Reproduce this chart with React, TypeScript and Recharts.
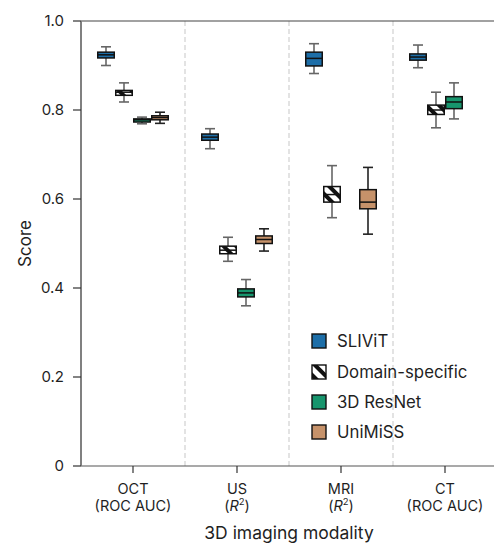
import React from 'react';
import {
  ComposedChart,
  Bar,
  XAxis,
  YAxis,
  CartesianGrid,
  ReferenceLine,
  Legend,
} from 'recharts';

// Modalities on the x axis and the metric shown under each one
const categories = ['OCT', 'US', 'MRI', 'CT'];
const metrics = ['ROC AUC', 'R2', 'R2', 'ROC AUC'];

// Box-plot summaries per model (min, q1, median, q3, max) for each modality
const slivitMin = [0.9, 0.713, 0.882, 0.895];
const slivitQ1 = [0.917, 0.732, 0.899, 0.912];
const slivitMed = [0.924, 0.739, 0.916, 0.919];
const slivitQ3 = [0.93, 0.746, 0.93, 0.926];
const slivitMax = [0.942, 0.758, 0.949, 0.946];

const domainMin = [0.818, 0.46, 0.558, 0.76];
const domainQ1 = [0.833, 0.477, 0.593, 0.79];
const domainMed = [0.84, 0.485, 0.61, 0.8];
const domainQ3 = [0.844, 0.494, 0.628, 0.811];
const domainMax = [0.861, 0.514, 0.675, 0.84];

const resnetMin = [0.769, 0.36, null, 0.78];
const resnetQ1 = [0.773, 0.38, null, 0.803];
const resnetMed = [0.778, 0.389, null, 0.818];
const resnetQ3 = [0.78, 0.398, null, 0.83];
const resnetMax = [0.784, 0.419, null, 0.861];

const unimissMin = [0.77, 0.483, 0.521, null];
const unimissQ1 = [0.778, 0.5, 0.578, null];
const unimissMed = [0.783, 0.509, 0.593, null];
const unimissQ3 = [0.787, 0.517, 0.621, null];
const unimissMax = [0.795, 0.533, 0.671, null];

const yTicks = [0, 0.2, 0.4, 0.6, 0.8, 1.0];

const FONT = 'Inter, "Noto Sans", sans-serif';
const TEXT = '#1f1f1f';

type Stats = { min: number; q1: number; med: number; q3: number; max: number };

interface Series {
  key: string;
  name: string;
  fill: string;
  whisker: string;
  min: (number | null)[];
  q1: (number | null)[];
  med: (number | null)[];
  q3: (number | null)[];
  max: (number | null)[];
}

const series: Series[] = [
  { key: 'slivit', name: 'SLIViT', fill: '#1d6ea8', whisker: '#666', min: slivitMin, q1: slivitQ1, med: slivitMed, q3: slivitQ3, max: slivitMax },
  { key: 'domain', name: 'Domain-specific', fill: 'url(#hatch)', whisker: '#666', min: domainMin, q1: domainQ1, med: domainMed, q3: domainQ3, max: domainMax },
  { key: 'resnet', name: '3D ResNet', fill: '#17956d', whisker: '#666', min: resnetMin, q1: resnetQ1, med: resnetMed, q3: resnetQ3, max: resnetMax },
  { key: 'unimiss', name: 'UniMiSS', fill: '#c6926a', whisker: '#222', min: unimissMin, q1: unimissQ1, med: unimissMed, q3: unimissQ3, max: unimissMax },
];

// One row per modality: the box range [q1, q3] plus the full summary for whiskers
const data = categories.map((c, i) => {
  const row: Record<string, unknown> = { modality: c, metric: metrics[i] };
  series.forEach((s) => {
    const q1 = s.q1[i];
    const q3 = s.q3[i];
    if (q1 != null && q3 != null) {
      row[s.key] = [q1, q3];
      row[`${s.key}Stats`] = { min: s.min[i], q1, med: s.med[i], q3, max: s.max[i] } as Stats;
    }
  });
  return row;
});

// Draws a box with median and capped whiskers; whisker positions follow the
// same pixels-per-unit as the bar rectangle produced by the y scale.
const BoxShape = (props: any) => {
  const { x, y, width, height, payload, s } = props;
  const st: Stats | undefined = payload?.[`${s.key}Stats`];
  if (!st || height == null) return null;
  const top = Math.min(y, y + height);
  const h = Math.abs(height);
  const ppu = h / (st.q3 - st.q1 || 1);
  const toY = (v: number) => top + (st.q3 - v) * ppu;
  const cx = x + width / 2;
  const cap = 5;
  const yMax = toY(st.max);
  const yMin = toY(st.min);
  const yMed = toY(st.med);
  return (
    <g>
      <line x1={cx} x2={cx} y1={yMax} y2={top} stroke={s.whisker} strokeWidth={1.6} />
      <line x1={cx} x2={cx} y1={top + h} y2={yMin} stroke={s.whisker} strokeWidth={1.6} />
      <line x1={cx - cap} x2={cx + cap} y1={yMax} y2={yMax} stroke={s.whisker} strokeWidth={1.6} />
      <line x1={cx - cap} x2={cx + cap} y1={yMin} y2={yMin} stroke={s.whisker} strokeWidth={1.6} />
      <rect x={x + 0.75} y={top} width={width - 1.5} height={h} fill={s.fill} stroke="#111" strokeWidth={1.5} />
      <line x1={x + 0.75} x2={x + width - 0.75} y1={yMed} y2={yMed} stroke="#111" strokeWidth={1.5} />
    </g>
  );
};

const XTick = (props: any) => {
  const { x, y, payload, index } = props;
  const metric = metrics[index ?? categories.indexOf(payload.value)];
  const second =
    metric === 'R2' ? (
      <>
        (<tspan fontStyle="italic">R</tspan>
        <tspan fontSize={9.5} dy={-6}>2</tspan>
        <tspan dy={6}>)</tspan>
      </>
    ) : (
      `(${metric})`
    );
  return (
    <g>
      <text x={x} y={y + 19} textAnchor="middle" fontFamily={FONT} fontSize={14.5} fill={TEXT}>
        {payload.value}
      </text>
      <text x={x} y={y + 36} textAnchor="middle" fontFamily={FONT} fontSize={14.5} fill={TEXT}>
        {second}
      </text>
    </g>
  );
};

const HatchDef = ({ id }: { id: string }) => (
  <pattern id={id} patternUnits="userSpaceOnUse" width={9} height={9} patternTransform="rotate(-45)">
    <rect x={0} y={0} width={9} height={9} fill="#fff" />
    <rect x={0} y={0} width={4} height={9} fill="#111" />
  </pattern>
);

const LegendContent = () => (
  <div style={{ fontFamily: FONT, fontSize: 16.8, color: TEXT }}>
    {series.map((s) => (
      <div key={s.key} style={{ display: 'flex', alignItems: 'center', height: 30.4 }}>
        <svg width={16} height={16} style={{ marginRight: 10 }}>
          <defs>
            <HatchDef id="hatchLegend" />
          </defs>
          <rect
            x={1}
            y={1}
            width={14}
            height={14}
            fill={s.key === 'domain' ? 'url(#hatchLegend)' : s.fill}
            stroke="#111"
            strokeWidth={1.4}
          />
        </svg>
        <span>{s.name}</span>
      </div>
    ))}
  </div>
);

// Category boundaries: the band scale start of each modality after the first,
// falling back to even splits of the plot width.
const dividerGenerator = ({ xAxis, offset }: any) => {
  const sc = xAxis?.scale;
  if (typeof sc === 'function' && typeof sc(categories[1]) === 'number') {
    return categories.slice(1).map((c) => sc(c));
  }
  const left = offset?.left ?? 0;
  const w = offset?.width ?? 0;
  return categories.slice(1).map((_, i) => left + (w * (i + 1)) / categories.length);
};

export default function App() {
  return (
    <div style={{ position: 'absolute', left: 0, top: 0, width: 494, height: 546, overflow: 'hidden', background: '#fff' }}>
      <ComposedChart
        width={497}
        height={546}
        data={data}
        margin={{ top: 21, right: 0, bottom: 0, left: 0 }}
        barGap={0}
      >
        <defs>
          <HatchDef id="hatch" />
        </defs>
        <CartesianGrid
          horizontal={false}
          stroke="#d8d8d8"
          strokeWidth={1.4}
          strokeDasharray="5 3"
          verticalCoordinatesGenerator={dividerGenerator}
        />
        <ReferenceLine y={1} stroke="#444" strokeWidth={1.2} />
        <XAxis
          dataKey="modality"
          height={80}
          interval={0}
          tick={<XTick />}
          tickSize={7}
          tickLine={{ stroke: '#333', strokeWidth: 1.2 }}
          axisLine={{ stroke: '#555', strokeWidth: 1.2 }}
          label={{
            content: ({ viewBox }: any) => (
              <text
                x={viewBox.x + viewBox.width / 2}
                y={viewBox.y + 73}
                textAnchor="middle"
                fontFamily={FONT}
                fontSize={17.5}
                fill={TEXT}
              >
                3D imaging modality
              </text>
            ),
          }}
        />
        <YAxis
          width={81}
          domain={[0, 1]}
          ticks={yTicks}
          allowDataOverflow
          tickFormatter={(v: number) => (v === 0 ? '0' : v.toFixed(1))}
          tick={{ fontFamily: FONT, fontSize: 15, fill: TEXT }}
          tickSize={8}
          tickMargin={9}
          tickLine={{ stroke: '#333', strokeWidth: 1.2 }}
          axisLine={{ stroke: '#808080', strokeWidth: 2 }}
          label={{
            content: ({ viewBox }: any) => {
              const cx = viewBox.x + 25;
              const cy = viewBox.y + viewBox.height / 2;
              return (
                <text
                  x={cx}
                  y={cy}
                  transform={`rotate(-90 ${cx} ${cy})`}
                  textAnchor="middle"
                  dominantBaseline="central"
                  fontFamily={FONT}
                  fontSize={17}
                  fill={TEXT}
                >
                  Score
                </text>
              );
            },
          }}
        />
        {series.map((s) => (
          <Bar
            key={s.key}
            dataKey={s.key}
            name={s.name}
            barSize={18}
            fill={s.fill}
            isAnimationActive={false}
            shape={(p: any) => <BoxShape {...p} s={s} />}
          />
        ))}
        <Legend
          layout="vertical"
          align="center"
          verticalAlign="middle"
          content={<LegendContent />}
          wrapperStyle={{ position: 'absolute', left: 311, top: 326, width: 180 }}
        />
      </ComposedChart>
    </div>
  );
}
